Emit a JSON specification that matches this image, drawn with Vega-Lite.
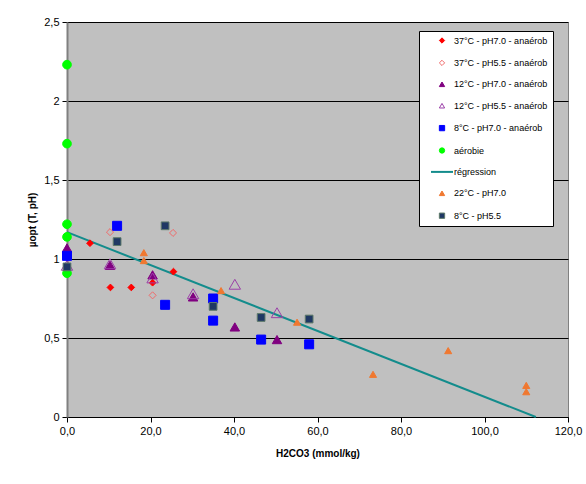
{
  "$schema": "https://vega.github.io/schema/vega-lite/v6.json",
  "width": 501,
  "height": 395,
  "autosize": {"type": "none"},
  "padding": {"left": 67, "top": 22, "right": 18, "bottom": 67},
  "background": "#FFFFFF",
  "config": {
    "view": {"fill": "#C0C0C0", "stroke": "#808080", "strokeWidth": 1},
    "font": "Liberation Sans"
  },
  "layer": [
    {
      "data": {"values": [
        {"h2co3": 0, "mu": 1.17},
        {"h2co3": 112.3, "mu": 0}
      ]},
      "mark": {"type": "line", "color": "#138C8C", "strokeWidth": 2},
      "encoding": {
        "x": {"field": "h2co3", "type": "quantitative", "scale": {"domain": [0, 120], "nice": false}},
        "y": {"field": "mu", "type": "quantitative", "scale": {"domain": [0, 2.5], "nice": false}}
      }
    },
    {
      "data": {"values": [
        {"series": "37°C - pH7.0 - anaérob", "h2co3": 5.5, "mu": 1.10},
        {"series": "37°C - pH7.0 - anaérob", "h2co3": 10.4, "mu": 0.82},
        {"series": "37°C - pH7.0 - anaérob", "h2co3": 15.4, "mu": 0.82},
        {"series": "37°C - pH7.0 - anaérob", "h2co3": 20.5, "mu": 0.85},
        {"series": "37°C - pH7.0 - anaérob", "h2co3": 25.5, "mu": 0.92},
        {"series": "37°C - pH5.5 - anaérob", "h2co3": 10.3, "mu": 1.17},
        {"series": "37°C - pH5.5 - anaérob", "h2co3": 25.4, "mu": 1.165},
        {"series": "37°C - pH5.5 - anaérob", "h2co3": 20.5, "mu": 0.77},
        {"series": "12°C - pH7.0 - anaérob", "h2co3": 0, "mu": 1.07},
        {"series": "12°C - pH7.0 - anaérob", "h2co3": 10.3, "mu": 0.96},
        {"series": "12°C - pH7.0 - anaérob", "h2co3": 20.5, "mu": 0.90},
        {"series": "12°C - pH7.0 - anaérob", "h2co3": 30.2, "mu": 0.76},
        {"series": "12°C - pH7.0 - anaérob", "h2co3": 40.2, "mu": 0.57},
        {"series": "12°C - pH7.0 - anaérob", "h2co3": 50.3, "mu": 0.49},
        {"series": "12°C - pH5.5 - anaérob", "h2co3": 0, "mu": 0.96},
        {"series": "12°C - pH5.5 - anaérob", "h2co3": 10.3, "mu": 0.97},
        {"series": "12°C - pH5.5 - anaérob", "h2co3": 20.5, "mu": 0.88},
        {"series": "12°C - pH5.5 - anaérob", "h2co3": 30.2, "mu": 0.78},
        {"series": "12°C - pH5.5 - anaérob", "h2co3": 40.2, "mu": 0.84},
        {"series": "12°C - pH5.5 - anaérob", "h2co3": 50.3, "mu": 0.66},
        {"series": "8°C - pH7.0 - anaérob", "h2co3": 0, "mu": 1.02},
        {"series": "8°C - pH7.0 - anaérob", "h2co3": 12.0, "mu": 1.21},
        {"series": "8°C - pH7.0 - anaérob", "h2co3": 23.5, "mu": 0.71},
        {"series": "8°C - pH7.0 - anaérob", "h2co3": 35.0, "mu": 0.75},
        {"series": "8°C - pH7.0 - anaérob", "h2co3": 35.0, "mu": 0.61},
        {"series": "8°C - pH7.0 - anaérob", "h2co3": 46.5, "mu": 0.49},
        {"series": "8°C - pH7.0 - anaérob", "h2co3": 58.0, "mu": 0.46},
        {"series": "aérobie", "h2co3": 0, "mu": 2.23},
        {"series": "aérobie", "h2co3": 0, "mu": 1.73},
        {"series": "aérobie", "h2co3": 0, "mu": 1.22},
        {"series": "aérobie", "h2co3": 0, "mu": 1.14},
        {"series": "aérobie", "h2co3": 0, "mu": 0.91},
        {"series": "22°C - pH7.0", "h2co3": 18.4, "mu": 1.04},
        {"series": "22°C - pH7.0", "h2co3": 18.4, "mu": 0.99},
        {"series": "22°C - pH7.0", "h2co3": 36.9, "mu": 0.80},
        {"series": "22°C - pH7.0", "h2co3": 55.1, "mu": 0.60},
        {"series": "22°C - pH7.0", "h2co3": 73.3, "mu": 0.27},
        {"series": "22°C - pH7.0", "h2co3": 91.3, "mu": 0.42},
        {"series": "22°C - pH7.0", "h2co3": 110.0, "mu": 0.20},
        {"series": "22°C - pH7.0", "h2co3": 110.0, "mu": 0.16},
        {"series": "8°C - pH5.5", "h2co3": 0, "mu": 0.95},
        {"series": "8°C - pH5.5", "h2co3": 12.0, "mu": 1.11},
        {"series": "8°C - pH5.5", "h2co3": 23.5, "mu": 1.21},
        {"series": "8°C - pH5.5", "h2co3": 35.0, "mu": 0.70},
        {"series": "8°C - pH5.5", "h2co3": 46.5, "mu": 0.63},
        {"series": "8°C - pH5.5", "h2co3": 58.0, "mu": 0.62}
      ]},
      "mark": {"type": "point", "opacity": 1, "strokeWidth": 1},
      "encoding": {
        "x": {
          "field": "h2co3", "type": "quantitative",
          "scale": {"domain": [0, 120], "nice": false},
          "axis": {
            "title": "H2CO3 (mmol/kg)",
            "values": [0, 20, 40, 60, 80, 100, 120],
            "labelExpr": "replace(format(datum.value, '.1f'), '.', ',')",
            "grid": false,
            "domainColor": "#000000",
            "tickColor": "#000000",
            "tickSize": 5,
            "labelFontSize": 11,
            "labelColor": "#000000",
            "labelPadding": 3,
            "labelFlush": false,
            "labelOverlap": false,
            "titleFontSize": 10,
            "titleFontWeight": "bold",
            "titleColor": "#000000",
            "titlePadding": 12
          }
        },
        "y": {
          "field": "mu", "type": "quantitative",
          "scale": {"domain": [0, 2.5], "nice": false},
          "axis": {
            "title": "µopt (T, pH)",
            "values": [0, 0.5, 1, 1.5, 2, 2.5],
            "labelExpr": "replace(toString(datum.value), '.', ',')",
            "grid": true,
            "gridColor": "#000000",
            "gridWidth": 1,
            "gridOpacity": 1,
            "domainColor": "#808080",
            "domainWidth": 2,
            "tickColor": "#000000",
            "tickSize": 5,
            "labelFontSize": 11,
            "labelColor": "#000000",
            "labelPadding": 3,
            "labelFlush": false,
            "labelOverlap": false,
            "titleFontSize": 10,
            "titleFontWeight": "bold",
            "titleColor": "#000000",
            "titlePadding": 6
          }
        },
        "fill": {
          "field": "series", "type": "nominal",
          "scale": {
            "domain": ["37°C - pH7.0 - anaérob", "37°C - pH5.5 - anaérob", "12°C - pH7.0 - anaérob", "12°C - pH5.5 - anaérob", "8°C - pH7.0 - anaérob", "aérobie", "régression", "22°C - pH7.0", "8°C - pH5.5"],
            "range": ["#FF0000", "transparent", "#800080", "transparent", "#0000FF", "#00FF00", "transparent", "#F07830", "#1F3864"]
          },
          "legend": {
            "orient": "none",
            "legendX": 352,
            "legendY": 9,
            "title": null,
            "fillColor": "#FFFFFF",
            "strokeColor": "#000000",
            "padding": 5,
            "rowPadding": 11.4,
            "labelFont": "Liberation Sans",
            "labelFontSize": 9,
            "labelColor": "#000000",
            "labelOffset": 21,
            "symbolSize": 28,
            "symbolOpacity": 1,
            "symbolStrokeWidth": 1,
            "encode": {
              "symbols": {
                "update": {
                  "x": {"value": 18},
                  "size": {"signal": "datum.value === 'régression' ? 484 : 28"},
                  "strokeWidth": {"signal": "datum.value === 'régression' ? 2 : 1"}
                }
              }
            }
          }
        },
        "stroke": {
          "field": "series", "type": "nominal",
          "scale": {
            "domain": ["37°C - pH7.0 - anaérob", "37°C - pH5.5 - anaérob", "12°C - pH7.0 - anaérob", "12°C - pH5.5 - anaérob", "8°C - pH7.0 - anaérob", "aérobie", "régression", "22°C - pH7.0", "8°C - pH5.5"],
            "range": ["#FF0000", "#F06A6A", "#800080", "#9B3FA8", "#0000FF", "#00FF00", "#138C8C", "#F07830", "#5E7A6A"]
          }
        },
        "shape": {
          "field": "series", "type": "nominal",
          "scale": {
            "domain": ["37°C - pH7.0 - anaérob", "37°C - pH5.5 - anaérob", "12°C - pH7.0 - anaérob", "12°C - pH5.5 - anaérob", "8°C - pH7.0 - anaérob", "aérobie", "régression", "22°C - pH7.0", "8°C - pH5.5"],
            "range": ["diamond", "diamond", "triangle-up", "triangle-up", "square", "circle", "stroke", "triangle-up", "square"]
          }
        },
        "size": {
          "condition": [
            {"test": "datum.series === '37°C - pH7.0 - anaérob'", "value": 45},
            {"test": "datum.series === '37°C - pH5.5 - anaérob'", "value": 50},
            {"test": "datum.series === '12°C - pH7.0 - anaérob'", "value": 90},
            {"test": "datum.series === '12°C - pH5.5 - anaérob'", "value": 130},
            {"test": "datum.series === '8°C - pH7.0 - anaérob'", "value": 81},
            {"test": "datum.series === 'aérobie'", "value": 75},
            {"test": "datum.series === '8°C - pH5.5'", "value": 60}
          ],
          "value": 50
        }
      }
    }
  ]
}
